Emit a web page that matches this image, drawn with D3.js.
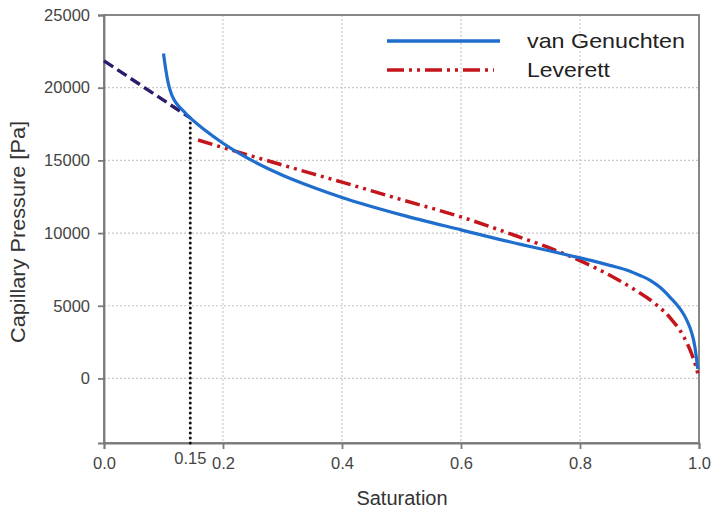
<!DOCTYPE html>
<html><head><meta charset="utf-8">
<script src="https://cdn.jsdelivr.net/npm/d3@7"></script>
<style>body{margin:0;background:#fff;} text{font-family:"Liberation Sans",Arial,sans-serif;}</style>
</head><body>
<svg id="c" width="711" height="514"></svg>
<script>
const xTicks = [0, 0.2, 0.4, 0.6, 0.8, 1.0];
const xTickLabels = ["0.0", "0.2", "0.4", "0.6", "0.8", "1.0"];
const yTicks = [0, 5000, 10000, 15000, 20000, 25000];
const yTickLabels = ["0", "5000", "10000", "15000", "20000", "25000"];

const vgS = [0.1, 0.104, 0.108, 0.113, 0.118, 0.125, 0.135, 0.145, 0.17, 0.2, 0.231, 0.25, 0.3, 0.35, 0.4, 0.5, 0.6, 0.7, 0.75, 0.8, 0.85, 0.884, 0.9, 0.918, 0.935, 0.951, 0.968, 0.979, 0.988, 0.993, 0.996, 0.998];
const vgP = [22350, 21200, 20300, 19600, 19150, 18750, 18330, 17920, 17070, 16180, 15390, 14960, 13980, 13170, 12450, 11250, 10220, 9220, 8770, 8290, 7780, 7380, 7100, 6750, 6250, 5600, 4800, 4050, 3100, 2200, 1300, 650];

const levS = [0.158, 0.2, 0.25, 0.3, 0.35, 0.4, 0.5, 0.6, 0.7, 0.75, 0.8, 0.85, 0.89, 0.926, 0.954, 0.974, 0.988, 0.995, 1.0];
const levP = [16400, 15880, 15280, 14680, 14090, 13500, 12300, 11110, 9700, 8960, 8100, 7100, 6150, 5150, 4050, 2900, 1650, 800, 0];

const extS = [0.0, 0.145];
const extP = [21850, 17920];

const cutS = 0.145, cutLabel = "0.15", cutP = 17920;

const seriesNames = ["van Genuchten", "Leverett"];

const svg = d3.select("#c");
const yMin = -4440;
const x = d3.scaleLinear().domain([0, 1]).range([104, 699]);
const y = d3.scaleLinear().domain([yMin, 25000]).range([443, 15]);

// grid
const g = svg.append("g");
g.selectAll(".gx").data(xTicks.slice(1, -1)).enter().append("line")
  .attr("x1", d => x(d)).attr("x2", d => x(d)).attr("y1", y(25000)).attr("y2", y(yMin))
  .attr("stroke", "#c8c8c8").attr("stroke-width", 1.2).attr("stroke-dasharray", "2,2");
g.selectAll(".gy").data(yTicks.slice(0, -1)).enter().append("line")
  .attr("x1", x(0)).attr("x2", x(1)).attr("y1", d => y(d)).attr("y2", d => y(d))
  .attr("stroke", "#c8c8c8").attr("stroke-width", 1.2).attr("stroke-dasharray", "2,2");

// frame
svg.append("rect").attr("x", x(0)).attr("y", y(25000)).attr("width", x(1) - x(0)).attr("height", y(yMin) - y(25000))
  .attr("fill", "none").attr("stroke", "#7a7a7a").attr("stroke-width", 1.8);

// axes
const xAxis = d3.axisBottom(x).tickValues(xTicks).tickFormat((d, i) => xTickLabels[i]).tickSize(6).tickPadding(8);
const xa = svg.append("g").attr("transform", `translate(0,${y(yMin)})`).call(xAxis);
const yAxis = d3.axisLeft(y).tickValues(yTicks).tickFormat((d, i) => yTickLabels[i]).tickSize(6).tickPadding(8);
const ya = svg.append("g").attr("transform", `translate(${x(0)},0)`).call(yAxis);
[xa, ya].forEach(a => {
  a.select(".domain").attr("stroke", "#7a7a7a").attr("stroke-width", 1.8);
  a.selectAll(".tick line").attr("stroke", "#7a7a7a").attr("stroke-width", 1.8);
  a.selectAll(".tick text").attr("fill", "#444").style("font-size", "16.5px").style("font-family", '"Liberation Sans",Arial,sans-serif');
});

// cut label
svg.append("text").attr("x", x(cutS)).attr("y", 464).attr("text-anchor", "middle")
  .attr("fill", "#444").style("font-size", "16.5px").text(cutLabel);

const line = d3.line().x(d => x(d[0])).y(d => y(d[1]));
const curve = d3.line().x(d => x(d[0])).y(d => y(d[1])).curve(d3.curveMonotoneX);

// dotted vertical
svg.append("path").attr("d", line([[cutS, cutP], [cutS, yMin]]))
  .attr("stroke", "#111").attr("stroke-width", 3).attr("stroke-linecap", "round").attr("stroke-dasharray", "0,5").attr("fill", "none");

// extrapolation dashed
svg.append("path").attr("d", line(extS.map((s, i) => [s, extP[i]])))
  .attr("stroke", "#2e1a6b").attr("stroke-width", 3.4).attr("stroke-dasharray", "11,5").attr("fill", "none");

// Leverett
svg.append("path").attr("d", curve(levS.map((s, i) => [s, levP[i]])))
  .attr("stroke", "#c4141c").attr("stroke-width", 3.5).attr("stroke-dasharray", "15,5,3,5,3,5").attr("fill", "none");

// van Genuchten
svg.append("path").attr("d", curve(vgS.map((s, i) => [s, vgP[i]])))
  .attr("stroke", "#1f6dcc").attr("stroke-width", 3.2).attr("fill", "none");

// legend
svg.append("line").attr("x1", 387).attr("x2", 500).attr("y1", 41).attr("y2", 41)
  .attr("stroke", "#1f6dcc").attr("stroke-width", 3.5);
svg.append("line").attr("x1", 387).attr("x2", 494).attr("y1", 70).attr("y2", 70)
  .attr("stroke", "#c4141c").attr("stroke-width", 3.5).attr("stroke-dasharray", "17,5,3,5,3,5");
svg.append("text").attr("x", 527).attr("y", 48).attr("fill", "#222").style("font-size", "21px")
  .attr("textLength", 158).attr("lengthAdjust", "spacingAndGlyphs").text(seriesNames[0]);
svg.append("text").attr("x", 527).attr("y", 77).attr("fill", "#222").style("font-size", "21px")
  .attr("textLength", 83).attr("lengthAdjust", "spacingAndGlyphs").text(seriesNames[1]);

// axis titles
svg.append("text").attr("x", 402).attr("y", 505).attr("text-anchor", "middle").attr("fill", "#333")
  .style("font-size", "20px").text("Saturation");
svg.append("text").attr("transform", `translate(25,232) rotate(-90)`).attr("text-anchor", "middle").attr("fill", "#333")
  .style("font-size", "19.5px").attr("textLength", 222).attr("lengthAdjust", "spacingAndGlyphs").text("Capillary Pressure [Pa]");
</script>
</body></html>
